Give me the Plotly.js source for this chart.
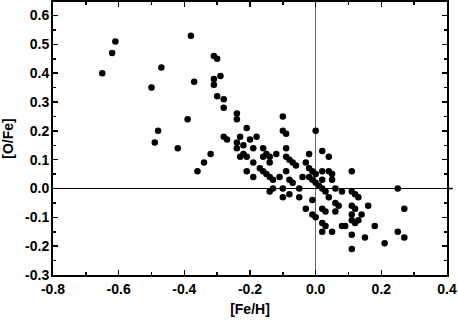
<!DOCTYPE html>
<html>
<head>
<meta charset="utf-8">
<script src="https://cdn.plot.ly/plotly-3.0.1.min.js"></script>
<style>
	body { margin: 0; background: #fff; }
	#chart { width: 458px; height: 323px; }
</style>
</head>
<body>
<div id="chart"></div>
<script>
// [Fe/H] and [O/Fe], point by point
var feH = [
	-0.65, -0.62, -0.61, -0.47, -0.50, -0.48, -0.49, -0.42, -0.38, -0.37,
	-0.39, -0.36, -0.34, -0.32, -0.31, -0.30, -0.29, -0.31, -0.31, -0.30,
	-0.28, -0.28, -0.24, -0.24, -0.21, -0.28, -0.27, -0.23, -0.20, -0.18,
	-0.24, -0.22, -0.24, -0.19, -0.16, -0.23, -0.22, -0.21, -0.19, -0.16,
	-0.15, -0.14, -0.14, -0.12, -0.21, -0.19, -0.17, -0.16, -0.15, -0.14,
	-0.13, -0.11, -0.09, -0.08, -0.07, -0.14, -0.13, -0.10, -0.10, -0.08,
	-0.05, -0.05, -0.10, -0.10, -0.09, 0.00, -0.09, -0.09, -0.08, -0.07,
	-0.06, -0.02, 0.02, 0.04, -0.03, -0.02, -0.01, 0.00, 0.02, 0.04,
	0.05, 0.11, -0.04, -0.02, -0.01, 0.00, 0.01, 0.02, 0.03, 0.04,
	0.02, 0.05, 0.06, 0.08, 0.11, 0.12, 0.13, -0.01, -0.03, -0.01,
	0.00, 0.02, 0.03, 0.06, 0.07, 0.06, 0.11, 0.12, 0.11, 0.14,
	0.16, 0.11, 0.12, 0.13, 0.02, 0.03, 0.02, 0.05, 0.08, 0.09,
	0.11, 0.15, 0.18, 0.11, 0.25, 0.27, 0.25, 0.27, 0.21
];
var oFe = [
	0.40, 0.47, 0.51, 0.42, 0.35, 0.20, 0.16, 0.14, 0.53, 0.37,
	0.24, 0.06, 0.09, 0.12, 0.46, 0.45, 0.39, 0.38, 0.36, 0.32,
	0.31, 0.28, 0.26, 0.24, 0.21, 0.18, 0.17, 0.18, 0.17, 0.18,
	0.16, 0.15, 0.14, 0.14, 0.14, 0.11, 0.12, 0.11, 0.09, 0.11,
	0.12, 0.11, 0.09, 0.12, 0.06, 0.04, 0.07, 0.06, 0.05, 0.04,
	0.03, 0.04, 0.06, 0.03, 0.02, -0.01, 0.00, 0.00, -0.03, -0.02,
	0.00, -0.03, 0.25, 0.20, 0.19, 0.20, 0.14, 0.11, 0.10, 0.09,
	0.08, 0.12, 0.13, 0.11, 0.09, 0.07, 0.06, 0.05, 0.06, 0.06,
	0.05, 0.06, 0.04, 0.04, 0.03, 0.02, 0.01, 0.00, -0.01, -0.03,
	0.03, 0.03, 0.00, -0.01, -0.01, -0.02, -0.03, -0.04, -0.07, -0.09,
	-0.10, -0.07, -0.08, -0.05, -0.06, -0.08, -0.06, -0.07, -0.09, -0.09,
	-0.06, -0.11, -0.12, -0.11, -0.12, -0.13, -0.15, -0.15, -0.13, -0.13,
	-0.16, -0.17, -0.13, -0.21, 0.00, -0.07, -0.15, -0.17, -0.19
];

var xTicks = [-0.8, -0.6, -0.4, -0.2, 0.0, 0.2, 0.4];
var xTickText = ['-0.8', '-0.6', '-0.4', '-0.2', '0.0', '0.2', '0.4'];
var yTicks = [-0.3, -0.2, -0.1, 0.0, 0.1, 0.2, 0.3, 0.4, 0.5, 0.6];
var yTickText = ['-0.3', '-0.2', '-0.1', '0.0', '0.1', '0.2', '0.3', '0.4', '0.5', '0.6'];

function main(){
	var font = { family: 'Liberation Sans, Arial, sans-serif', size: 14, color: '#000', weight: 'bold' };

	var trace = {
		x: feH,
		y: oFe,
		type: 'scatter',
		mode: 'markers',
		marker: { color: '#000', size: 6.5 },
		hoverinfo: 'x+y'
	};

	var layout = {
		width: 458,
		height: 323,
		margin: { l: 53, r: 11, t: 2, b: 48 },
		paper_bgcolor: '#fff',
		plot_bgcolor: '#fff',
		showlegend: false,
		font: font,
		xaxis: {
			range: [-0.8, 0.4],
			tickmode: 'array',
			tickvals: xTicks,
			ticktext: xTickText,
			ticks: 'inside',
			ticklen: 5,
			tickwidth: 1.5,
			tickcolor: '#000',
			ticklabelstandoff: 0,
			minor: { ticks: 'inside', ticklen: 3, tickwidth: 1.5, tickcolor: '#000', dtick: 0.1, tick0: 0 },
			showline: true,
			linewidth: 2,
			linecolor: '#000',
			mirror: 'ticks',
			showgrid: false,
			zeroline: true,
			zerolinecolor: '#666',
			zerolinewidth: 1.5,
			tickfont: font,
			title: { text: '[Fe/H]', font: font, standoff: 8 },
			automargin: false
		},
		yaxis: {
			range: [-0.3, 0.647],
			tickmode: 'array',
			tickvals: yTicks,
			ticktext: yTickText,
			ticks: 'inside',
			ticklen: 5,
			tickwidth: 1.5,
			tickcolor: '#000',
			ticklabelstandoff: -1,
			minor: { ticks: 'inside', ticklen: 3, tickwidth: 1.5, tickcolor: '#000', dtick: 0.05, tick0: 0 },
			showline: true,
			linewidth: 2,
			linecolor: '#000',
			mirror: 'ticks',
			showgrid: false,
			zeroline: true,
			zerolinecolor: '#000',
			zerolinewidth: 1.5,
			tickfont: font,
			title: { text: '[O/Fe]', font: font, standoff: 8 },
			automargin: false
		},
		shapes: [{
			// the y=0 line pokes a little past the right frame
			type: 'line', xref: 'paper', yref: 'y',
			x0: 1, x1: 1.015, y0: 0, y1: 0,
			line: { color: '#000', width: 1.5 }
		}]
	};

	Plotly.newPlot('chart', [trace], layout, { displayModeBar: false, staticPlot: true });
}
main();
</script>
</body>
</html>
